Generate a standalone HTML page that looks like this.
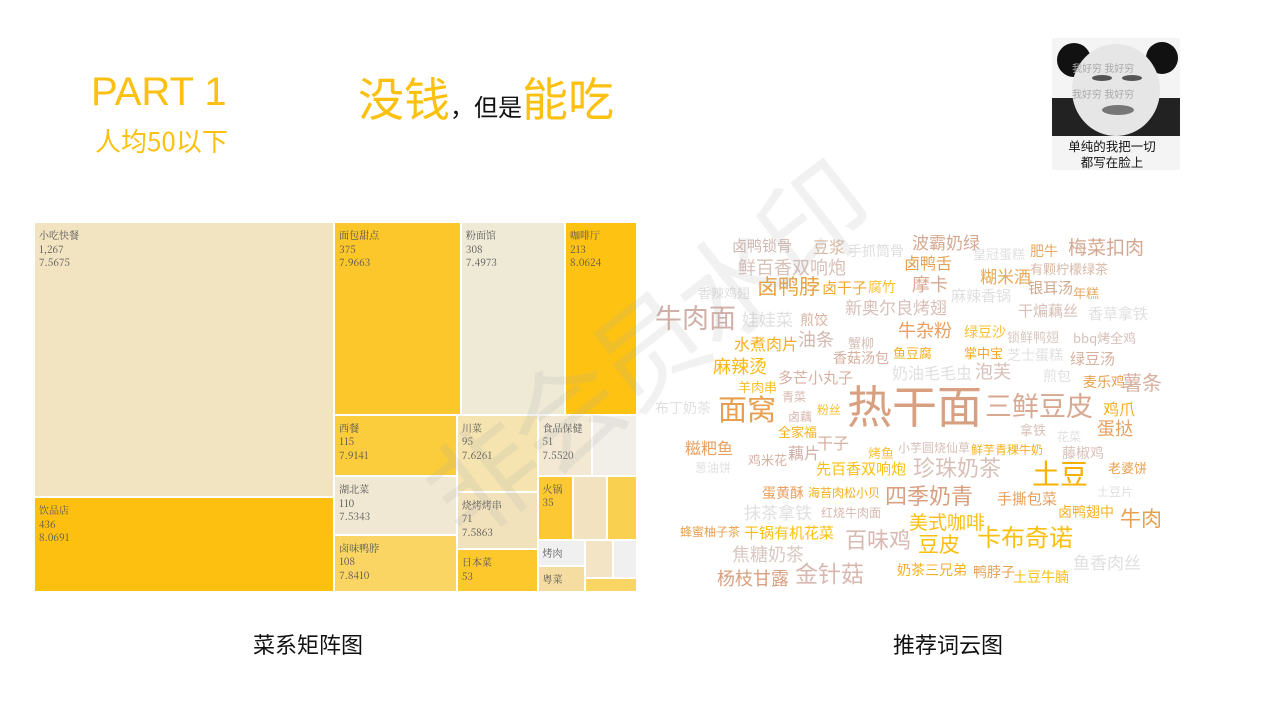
<!DOCTYPE html>
<html><head><meta charset="utf-8">
<style>
body{margin:0;width:1280px;height:720px;background:#fff;position:relative;overflow:hidden;font-family:"Liberation Sans","Noto Sans CJK SC",sans-serif}
.a{position:absolute;white-space:nowrap;line-height:1}
#tm div.cell{position:absolute;box-sizing:border-box;border:1px solid #fff;font-family:"Noto Serif CJK SC","Noto Sans CJK SC",serif;font-size:10px;color:#555;padding:5px 4px;line-height:13.5px;overflow:hidden}
#wc span{position:absolute;white-space:nowrap;line-height:1;font-family:"Noto Sans CJK SC",sans-serif}
</style></head><body>
<div class="a" style="left:91px;top:72px;font-size:40px;color:#fcc010">PART 1</div>
<div class="a" style="left:95px;top:128px;font-size:26px;color:#fcc010;font-family:'Noto Sans CJK SC',sans-serif">人均50以下</div>
<div class="a" style="left:358px;top:74px;font-family:'Noto Sans CJK SC',sans-serif;color:#fcc010;font-size:46px">没钱<span style="color:#111;font-size:24px">，但是</span>能吃</div>

<div style="position:absolute;left:1052px;top:38px;width:128px;height:132px;background:#f4f4f4">
 <svg width="128" height="100" style="position:absolute;left:0;top:0">
  <circle cx="22" cy="22" r="17" fill="#111"/><circle cx="110" cy="20" r="16" fill="#111"/>
  <rect x="0" y="60" width="128" height="38" fill="#222"/>
  <ellipse cx="64" cy="52" rx="44" ry="46" fill="#e6e6e6"/>
  <ellipse cx="50" cy="40" rx="10" ry="3" fill="#555"/><ellipse cx="80" cy="40" rx="10" ry="3" fill="#555"/>
  <ellipse cx="66" cy="72" rx="16" ry="5" fill="#777"/>
  <text x="20" y="34" font-size="10" fill="#aaa" font-family="Noto Sans CJK SC">我好穷 我好穷</text>
  <text x="20" y="60" font-size="10" fill="#aaa" font-family="Noto Sans CJK SC">我好穷 我好穷</text>
 </svg>
 <div class="a" style="left:0;width:120px;text-align:center;top:100px;font-size:12.5px;line-height:16px;font-family:'Noto Sans CJK SC',sans-serif;color:#111">单纯的我把一切<br>都写在脸上</div>
</div>

<div id="tm" style="position:absolute;left:34px;top:222px;width:603px;height:370px"></div>

<div id="wc" style="position:absolute;left:0;top:0;width:1280px;height:720px"></div>

<div class="a" style="left:380px;top:290px;font-size:110px;color:rgba(170,170,170,0.17);transform:rotate(-38deg);transform-origin:center;font-family:'Noto Sans CJK SC',sans-serif;letter-spacing:-5px">非会员水印</div>

<div class="a" style="left:253px;top:633px;font-size:22px;font-family:'Noto Sans CJK SC',sans-serif;color:#111">菜系矩阵图</div>
<div class="a" style="left:893px;top:633px;font-size:22px;font-family:'Noto Sans CJK SC',sans-serif;color:#111">推荐词云图</div>

<script>
// Treemap data
const names = ["小吃快餐","饮品店","面包甜点","粉面馆","咖啡厅","西餐","湖北菜","卤味鸭脖","川菜","烧烤烤串","日本菜","食品保健","","火锅","","","烤肉","粤菜","","",""];
const counts = [1267,436,375,308,213,115,110,108,95,71,53,51,42,35,33,30,19,18.5,16,14,11.5];
const countLabels = ["1,267","436","375","308","213","115","110","108","95","71","53","51","","35","","","","","","",""];
const scores = ["7.5675","8.0691","7.9663","7.4973","8.0624","7.9141","7.5343","7.8410","7.6261","7.5863","","7.5520","","","","","","","","",""];
const colors = ["#f2e4c0","#fdc010","#fcc72a","#efead6","#fdc212","#fbcc3c","#f0e8d2","#fad563","#f5e4b0","#f2e2bc","#fcc82c","#f2e8d4","#f2efe8","#fcc834","#f2e2c0","#fad050","#f0f0f0","#f5dca0","#f2e4c4","#f0f0f0","#fad563"];
const tree = ["h",[["v",[0,1]],["v",[["h",[2,3,4]],["h",[["v",[5,6,7]],["v",[8,9,10]],["v",[["h",[11,12]],["h",[13,14,15]],["h",[["v",[16,17]],["v",[["h",[18,19]],20]]]]]]]]]]]];
function total(n){return typeof n==="number"?counts[n]:n[1].reduce((s,c)=>s+total(c),0);}
const tm=document.getElementById('tm');
function lay(n,x,y,w,h){
  if(typeof n==="number"){
    const d=document.createElement('div');d.className='cell';
    
    
    d.style.cssText+=`left:${x}px;top:${y}px;width:${w}px;height:${h}px;background:${colors[n]}`;
    if(names[n]){let t=names[n];if(countLabels[n])t+='<br>'+countLabels[n];if(scores[n])t+='<br>'+scores[n];d.innerHTML=t;}
    tm.appendChild(d);return;
  }
  const T=total(n);let off=0;
  n[1].forEach(c=>{const f=total(c)/T;
    if(n[0]==="h"){lay(c,x+off,y,w*f,h);off+=w*f;}else{lay(c,x,y+off,w,h*f);off+=h*f;}});
}
lay(tree,0,0,603,370);

// Word cloud
const words=[["卤鸭锁骨",732,240,15,"#d0b8b0"],["豆浆",813,240,16,"#d8b8a0"],["手抓筒骨",848,246,14,"#ddd"],["波霸奶绿",912,235,17,"#d4a890"],["皇冠蛋糕",973,249,13,"#e0e0e0"],["肥牛",1030,246,14,"#e8a860"],["梅菜扣肉",1068,239,19,"#d4a890"],
["鲜百香双响炮",738,260,18,"#d8c0b8"],["卤鸭舌",904,256,16,"#e8a050"],["有颗柠檬绿茶",1030,264,13,"#d8b8a8"],["糊米酒",980,269,17,"#e8a858"],["香辣鸡翅",698,288,13,"#ddd"],["卤鸭脖",757,279,21,"#e8a040"],["卤干子",822,282,15,"#f0a830"],["腐竹",868,282,14,"#fbbf30"],["摩卡",912,277,18,"#d8a890"],["银耳汤",1028,282,15,"#d0a890"],["年糕",1073,288,13,"#e8a860"],["麻辣香锅",951,290,15,"#e0e0e0"],
["新奥尔良烤翅",845,300,17,"#d8c0b8"],["干煸藕丝",1018,305,15,"#d8c0b8"],["香草拿铁",1088,308,15,"#e0e0e0"],["牛肉面",655,306,27,"#d0b0a8"],["娃娃菜",742,312,17,"#e0e0e0"],["煎饺",800,315,14,"#d8b0a0"],["牛杂粉",898,323,18,"#e8a060"],["绿豆沙",964,327,14,"#fbbf30"],["锁鲜鸭翅",1007,332,13,"#d8c8c0"],["bbq烤全鸡",1073,333,13,"#d8c0b8"],
["水煮肉片",734,337,16,"#f5b020"],["油条",798,332,18,"#d0b8b0"],["蟹柳",848,338,13,"#d8c0b8"],["香菇汤包",833,353,14,"#d8b0a0"],["鱼豆腐",893,348,13,"#f5b020"],["掌中宝",964,348,13,"#f5a820"],["芝士蛋糕",1007,350,14,"#e0e0e0"],["绿豆汤",1070,353,15,"#d8b0a0"],["麻辣烫",713,359,18,"#fbb810"],["奶油毛毛虫",892,366,16,"#e0e0e0"],["泡芙",975,364,18,"#d8c0b8"],["煎包",1043,371,14,"#e0e0e0"],["多芒小丸子",778,372,15,"#d8b0a0"],["羊肉串",738,382,13,"#fbbf30"],["麦乐鸡",1083,377,14,"#e8a050"],["薯条",1122,374,20,"#d8b0a0"],
["青菜",782,392,12,"#d8b8b0"],["布丁奶茶",655,403,14,"#e0e0e0"],["面窝",718,397,29,"#e8a050"],["热干面",847,386,45,"#d8a080"],["三鲜豆皮",985,394,27,"#d8a890"],["鸡爪",1103,402,16,"#f5b020"],["蛋挞",1097,421,18,"#e8a060"],["卤藕",788,412,12,"#d8b8b0"],["粉丝",817,405,12,"#fbbf30"],["拿铁",1020,425,13,"#d8c0b8"],["花菜",1057,432,12,"#e0e0e0"],["全家福",778,427,13,"#f5b020"],["干子",817,436,16,"#d8b0a0"],["糍粑鱼",685,441,16,"#e8a060"],["藕片",788,446,16,"#d0b0a8"],["烤鱼",868,448,13,"#fbbf30"],["小芋圆烧仙草",898,443,12,"#d8c0b8"],["鲜芋青稞牛奶",971,445,12,"#f5b020"],["藤椒鸡",1062,448,14,"#d8c0b8"],
["鸡米花",748,455,13,"#d8b0a0"],["葱油饼",695,463,12,"#e0e0e0"],["先百香双响炮",816,463,15,"#fbbf10"],["珍珠奶茶",913,459,22,"#d8c0b8"],["土豆",1032,462,28,"#f5b000"],["老婆饼",1108,463,13,"#e8a050"],["土豆片",1097,487,12,"#e0e0e0"],["蛋黄酥",762,488,14,"#e8a060"],["海苔肉松小贝",808,488,12,"#f5b020"],["四季奶青",885,487,22,"#d8a080"],["手撕包菜",997,493,15,"#e8a060"],["抹茶拿铁",744,505,17,"#e0e0e0"],["红烧牛肉面",821,508,12,"#d8b8b0"],["卤鸭翅中",1058,507,14,"#f5b020"],["牛肉",1120,511,21,"#e8a050"],["美式咖啡",909,514,19,"#fbbf10"],
["蜂蜜柚子茶",680,527,12,"#e8a050"],["干锅有机花菜",744,527,15,"#fbbf10"],["百味鸡",845,531,22,"#d8b8b0"],["豆皮",918,537,21,"#fbbf10"],["卡布奇诺",977,527,24,"#fbbf10"],["焦糖奶茶",732,547,18,"#d8c8c0"],["鱼香肉丝",1073,555,17,"#e0e0e0"],["杨枝甘露",717,571,18,"#d8a080"],["金针菇",795,564,23,"#d8b8b0"],["奶茶三兄弟",897,565,14,"#f5b020"],["鸭脖子",973,567,14,"#e8a050"],["土豆牛腩",1013,572,14,"#fbbf10"]];
const wc=document.getElementById('wc');
words.forEach(w=>{const s=document.createElement('span');
 
 
 s.textContent=w[0];s.style.left=w[1]+'px';s.style.top=(w[2]-w[3]*0.12)+'px';s.style.fontSize=w[3]+'px';s.style.color=w[4];wc.appendChild(s);});
</script>
</body></html>
